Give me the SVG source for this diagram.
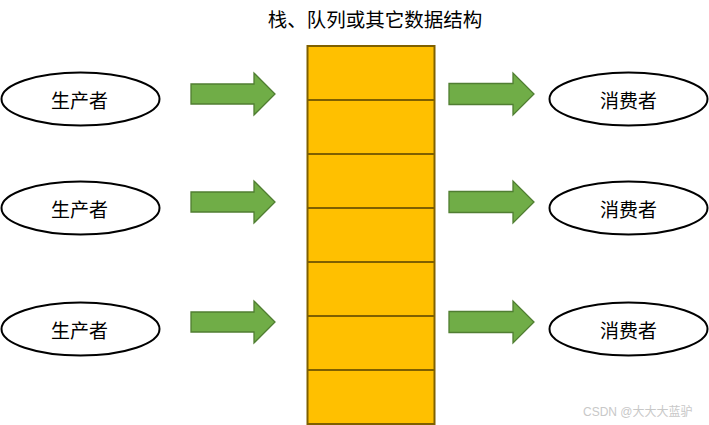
<svg xmlns="http://www.w3.org/2000/svg" width="709" height="425" viewBox="0 0 709 425">
<style>
.ell{fill:#fff;stroke:#000;stroke-width:2}
.lbl{font-family:"Liberation Sans","Noto Sans CJK SC",sans-serif;font-size:19px;fill:#000;text-anchor:middle}
.ttl{font-size:19.5px}
.arr{fill:#70AD47;stroke:#507E32;stroke-width:1.3}
.cell{fill:#FFC000;stroke:#7F6000;stroke-width:2}
.wm{font-family:"Liberation Sans","Noto Sans CJK SC",sans-serif;font-size:12px;fill:#c8c8c8}
</style>
<defs>
<path id="la" d="M191,-10 H254 V-21 L275,0 L254,21 V10 H191 Z"/>
<path id="ra" d="M449,-10.5 H513 V-21 L534,0 L513,21 V10.5 H449 Z"/>
</defs>
<rect width="709" height="425" fill="#fff"/>
<text id="title" class="lbl ttl" x="375" y="27">栈、队列或其它数据结构</text>
<g id="stack">
<rect class="cell" x="307.5" y="46" width="127" height="378"/>
<path class="cell" d="M307.5,100H434.5M307.5,154H434.5M307.5,208H434.5M307.5,262H434.5M307.5,316H434.5M307.5,370H434.5"/>
</g>
<g id="producer1"><ellipse class="ell" cx="80.5" cy="99" rx="79" ry="26.5"/><text class="lbl" x="79.5" y="108">生产者</text></g>
<g id="producer2"><ellipse class="ell" cx="80.5" cy="208" rx="79" ry="26.5"/><text class="lbl" x="79.5" y="217">生产者</text></g>
<g id="producer3"><ellipse class="ell" cx="80.5" cy="329" rx="79" ry="26.5"/><text class="lbl" x="79.5" y="338">生产者</text></g>
<g id="consumer1"><ellipse class="ell" cx="628.5" cy="99" rx="79" ry="26.5"/><text class="lbl" x="628.5" y="108">消费者</text></g>
<g id="consumer2"><ellipse class="ell" cx="628.5" cy="208" rx="79" ry="26.5"/><text class="lbl" x="628.5" y="217">消费者</text></g>
<g id="consumer3"><ellipse class="ell" cx="628.5" cy="329" rx="79" ry="26.5"/><text class="lbl" x="628.5" y="338">消费者</text></g>
<g id="connectors">
<use href="#la" class="arr" transform="translate(0,94)"/>
<use href="#la" class="arr" transform="translate(0,202)"/>
<use href="#la" class="arr" transform="translate(0,322)"/>
<use href="#ra" class="arr" transform="translate(0,94)"/>
<use href="#ra" class="arr" transform="translate(0,202)"/>
<use href="#ra" class="arr" transform="translate(0,322)"/>
</g>
<text class="wm" x="583" y="416">CSDN @大大大蓝驴</text>
</svg>
